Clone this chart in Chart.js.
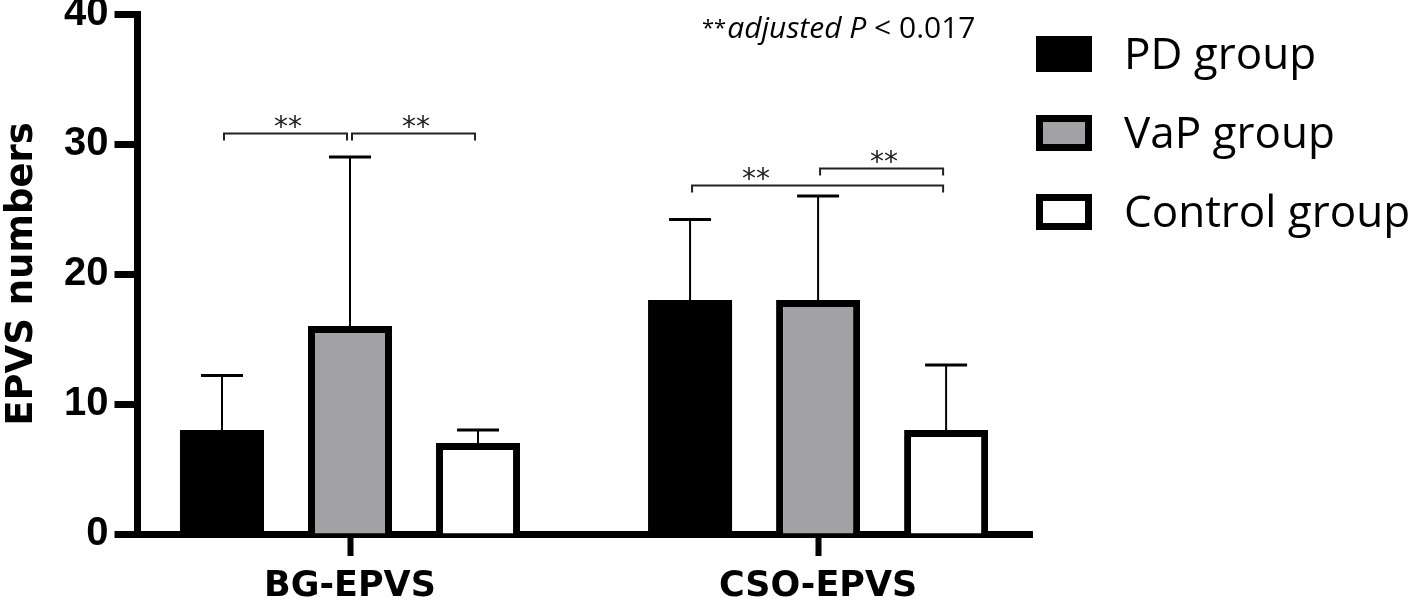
<!DOCTYPE html>
<html><head><meta charset="utf-8">
<script src="https://cdn.jsdelivr.net/npm/chart.js@4"></script>
<style>html,body{margin:0;padding:0;background:#fff}#wrap{width:1416px;height:607px}</style>
</head><body><div id="wrap"><canvas id="c" width="1416" height="607"></canvas></div>
<script>
const categories = ['BG-EPVS', 'CSO-EPVS'];
const seriesNames = ['PD group', 'VaP group', 'Control group'];
const pdMeans = [8, 18];
const pdSD = [4.2, 6.2];
const vapMeans = [16, 18];
const vapSD = [13, 8];
const controlMeans = [7, 8];
const controlSD = [1, 5];
const yTicks = [0, 10, 20, 30, 40];
// significance brackets: category index, from series, to series, bracket height (y units)
const bracketCat = [0, 0, 1, 1];
const bracketFrom = [0, 1, 0, 1];
const bracketTo = [1, 2, 2, 2];
const bracketY = [30.85, 30.85, 26.85, 28.15];
// the "**" mark sits midway between these two series of the bracket's category
const markFrom = [0, 1, 0, 1];
const markTo = [1, 2, 1, 2];
const sigMark = '**';
const noteParts = ['adjusted P', ' < 0.017'];

const toXY = arr => arr.map((v, i) => ({x: i + 1, y: v}));

const errorBarPlugin = {
  id: 'errorBars',
  afterDatasetsDraw(chart) {
    const ctx = chart.ctx, ys = chart.scales.y;
    chart.data.datasets.forEach((ds, di) => {
      const meta = chart.getDatasetMeta(di);
      meta.data.forEach((el, i) => {
        const v = ds.data[i].y, sd = ds.errors[i];
        const yTop = ys.getPixelForValue(v + sd);
        ctx.save();
        ctx.strokeStyle = '#000';
        ctx.lineWidth = 2;
        ctx.beginPath(); ctx.moveTo(el.x, el.y); ctx.lineTo(el.x, yTop); ctx.stroke();
        ctx.lineWidth = 3;
        ctx.beginPath(); ctx.moveTo(el.x - 21, yTop); ctx.lineTo(el.x + 21, yTop); ctx.stroke();
        ctx.restore();
      });
    });
  }
};

const annotationPlugin = {
  id: 'annot',
  afterDraw(chart) {
    const ctx = chart.ctx, ys = chart.scales.y;
    const cx = (s, c) => chart.getDatasetMeta(s).data[c].x;
    ctx.save();
    // brackets
    for (let k = 0; k < bracketY.length; k++) {
      const c = bracketCat[k];
      const a = cx(bracketFrom[k], c) + 2;
      const b = cx(bracketTo[k], c) - 3;
      const y = Math.round(ys.getPixelForValue(bracketY[k])) + 0.5;
      ctx.strokeStyle = '#222';
      ctx.lineWidth = 2;
      ctx.beginPath();
      ctx.moveTo(a, y + 7); ctx.lineTo(a, y); ctx.lineTo(b, y); ctx.lineTo(b, y + 7);
      ctx.stroke();
      ctx.fillStyle = '#222';
      ctx.font = '28px "DejaVu Sans"';
      ctx.textAlign = 'center';
      ctx.textBaseline = 'alphabetic';
      ctx.fillText(sigMark, (cx(markFrom[k], c) + cx(markTo[k], c)) / 2 + 2, y + 2);
    }
    // note text
    let x = 702;
    const base = 38;
    ctx.textAlign = 'left';
    ctx.fillStyle = '#000';
    ctx.font = '22px "Open Sans"';
    ctx.fillText(sigMark, x, base - 3);
    x += ctx.measureText(sigMark).width + 1;
    ctx.font = 'italic 30px "Open Sans"';
    ctx.fillText(noteParts[0], x, base);
    x += ctx.measureText(noteParts[0]).width;
    ctx.font = '30px "Open Sans"';
    ctx.fillText(noteParts[1], x, base);
    // legend
    const tops = [36, 115, 194];
    chart.data.datasets.forEach((ds, i) => {
      const t = tops[i], l = 1036, w = 56, h = 36, bw = ds.borderWidth;
      ctx.fillStyle = ds.borderColor;
      ctx.fillRect(l, t, w, h);
      ctx.fillStyle = ds.backgroundColor;
      ctx.fillRect(l + bw, t + bw, w - 2 * bw, h - 2 * bw);
      ctx.fillStyle = '#000';
      ctx.font = '44px "Open Sans"';
      ctx.textBaseline = 'alphabetic';
      ctx.fillText(ds.label, 1124, t + 33);
    });
    ctx.restore();
  }
};

new Chart(document.getElementById('c'), {
  type: 'bar',
  data: {
    datasets: [
      {label: seriesNames[0], data: toXY(pdMeans), errors: pdSD, backgroundColor: '#000', borderColor: '#000', borderWidth: 0},
      {label: seriesNames[1], data: toXY(vapMeans), errors: vapSD, backgroundColor: '#a2a2a6', borderColor: '#000', borderWidth: 7},
      {label: seriesNames[2], data: toXY(controlMeans), errors: controlSD, backgroundColor: '#fff', borderColor: '#000', borderWidth: 7}
    ]
  },
  options: {
    responsive: false,
    animation: false,
    devicePixelRatio: 1,
    categoryPercentage: 0.8205,
    barPercentage: 0.65625,
    layout: {padding: {left: 0, top: 14, right: 384, bottom: 0}},
    plugins: {legend: {display: false}, tooltip: {enabled: false}},
    scales: {
      x: {
        type: 'linear', min: 0.546, max: 2.457, offset: false, z: 1,
        grid: {offset: false, drawOnChartArea: false, drawTicks: true, tickLength: 22, tickWidth: 6, tickColor: '#000'},
        border: {display: true, color: '#000', width: 7},
        afterBuildTicks: s => { s.ticks = categories.map((c, i) => ({value: i + 1})); },
        afterFit: s => { s.height = 73; s.paddingLeft = 0; s.paddingRight = 0; },
        ticks: {
          autoSkip: false, maxRotation: 0, padding: 10, color: '#000',
          font: {family: 'DejaVu Sans', weight: 'bold', size: 35},
          callback: v => categories[v - 1]
        }
      },
      y: {
        min: 0, max: 40, z: 1,
        grid: {drawOnChartArea: false, drawTicks: true, tickLength: 23, tickWidth: 7, tickColor: '#000'},
        border: {display: true, color: '#000', width: 7},
        afterBuildTicks: s => { s.ticks = yTicks.map(v => ({value: v})); },
        afterFit: s => { s.width = 137.5; s.paddingTop = 0; s.paddingBottom = 0; },
        ticks: {padding: 6, color: '#000', font: {family: 'Liberation Sans', weight: 'bold', size: 40}},
        title: {display: true, text: 'EPVS numbers', color: '#000', padding: {top: 0, bottom: 0},
          font: {family: 'DejaVu Sans', weight: 'bold', size: 37}}
      }
    }
  },
  plugins: [errorBarPlugin, annotationPlugin]
});
</script></body></html>
